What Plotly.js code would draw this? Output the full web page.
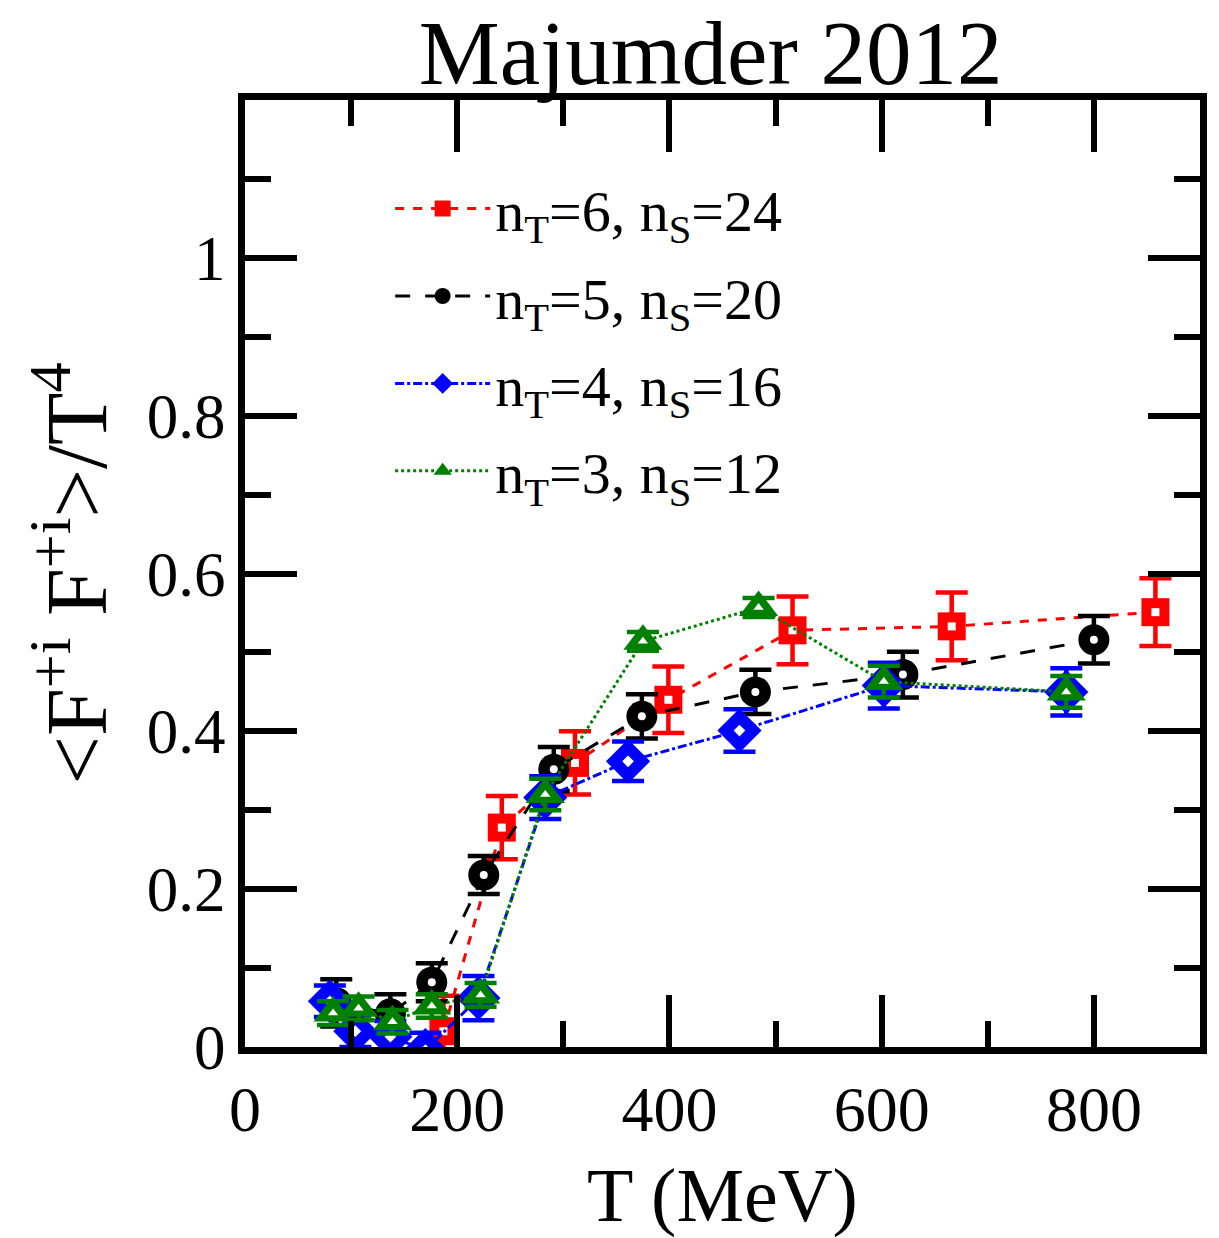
<!DOCTYPE html>
<html>
<head>
<meta charset="utf-8">
<script src="https://cdn.plot.ly/plotly-3.0.1.min.js"></script>
<style>html,body{margin:0;padding:0;background:#fff;}#chart{width:1219px;height:1238px;}</style>
</head>
<body>
<div id="chart"></div>
<script>
// n_T=6, n_S=24
const T6 = [187, 242, 311, 399, 516, 666, 858];
const F6 = [0.02, 0.278, 0.36, 0.44, 0.528, 0.533, 0.551];
const E6 = [0.045, 0.04, 0.04, 0.042, 0.043, 0.043, 0.043];
// n_T=5, n_S=20
const T5 = [86, 137, 176, 225, 291, 374, 481, 620, 800];
const F5 = [0.056, 0.042, 0.082, 0.218, 0.352, 0.419, 0.45, 0.472, 0.516];
const E5 = [0.03, 0.025, 0.024, 0.024, 0.028, 0.028, 0.028, 0.029, 0.03];
// n_T=4, n_S=16
const T4 = [80, 104, 137, 170, 220, 283, 361, 466, 602, 774];
const F4 = [0.058, 0.02, 0.013, -0.004, 0.062, 0.316, 0.362, 0.401, 0.458, 0.45];
const E4 = [0.02, 0.02, 0.02, 0.022, 0.028, 0.027, 0.025, 0.027, 0.029, 0.03];
// n_T=3, n_S=12
const T3 = [83, 107, 139, 176, 222, 283, 375, 484, 602, 774];
const F3 = [0.043, 0.049, 0.032, 0.052, 0.066, 0.32, 0.514, 0.557, 0.463, 0.45];
const E3 = [0.015, 0.015, 0.015, 0.015, 0.015, 0.02, 0.012, 0.012, 0.02, 0.02];

const names = ['n<sub>T</sub>=6, n<sub>S</sub>=24', 'n<sub>T</sub>=5, n<sub>S</sub>=20',
               'n<sub>T</sub>=4, n<sub>S</sub>=16', 'n<sub>T</sub>=3, n<sub>S</sub>=12'];
const xTicks = [0, 200, 400, 600, 800];
const yTicks = [0, 0.2, 0.4, 0.6, 0.8, 1];

function series(x, y, e, name, color, symbol, dash, size, group) {
  return [{
    x: x, y: y, name: name, type: 'scatter', mode: 'lines+markers', legendgroup: group,
    line: {color: color, width: 3, dash: dash},
    marker: {symbol: symbol, size: size, color: color, line: {width: 0}},
    error_y: {type: 'data', array: e, visible: true, color: color, thickness: 4.5, width: 16}
  }, {
    x: x, y: y, name: name, type: 'scatter', mode: 'markers', legendgroup: group, showlegend: false,
    marker: {symbol: symbol, size: Math.round(size * 0.27), color: '#ffffff', line: {width: 0}}
  }];
}
const data = [].concat(
  series(T6, F6, E6, names[0], '#ff0000', 'square', 'dash', 28, 'g6'),
  series(T5, F5, E5, names[1], '#000000', 'circle', 'longdash', 31, 'g5'),
  series(T4, F4, E4, names[2], '#0000ff', 'diamond', 'dashdot', 34, 'g4'),
  series(T3, F3, E3, names[3], '#008000', 'triangle-up', 'dot', 34, 'g3')
);
const font = 'Liberation Serif, Times New Roman, serif';
const layout = {
  width: 1219, height: 1238,
  margin: {l: 245, r: 19, t: 100, b: 191},
  paper_bgcolor: '#fff', plot_bgcolor: '#fff',
  font: {family: font, color: '#000'},
  showlegend: true,
  title: {text: 'Majumder 2012', font: {size: 91, family: font}, x: 0.583, xanchor: 'center', y: 0.958, yanchor: 'middle'},
  legend: {x: 0.152, y: 0.932, xanchor: 'left', yanchor: 'top', font: {size: 58, family: font},
           bgcolor: 'rgba(0,0,0,0)', itemwidth: 95, tracegroupgap: 9, traceorder: 'grouped'},
  xaxis: {
    range: [0, 900], showgrid: false, zeroline: false,
    showline: true, linecolor: '#000', linewidth: 7, mirror: 'allticks',
    ticks: 'inside', ticklen: 52, tickwidth: 6, tickcolor: '#000',
    tickvals: xTicks, ticktext: xTicks.map(String),
    tickfont: {size: 64, family: font},
    minor: {ticks: 'inside', ticklen: 26, tickwidth: 6, tickcolor: '#000', dtick: 100, tick0: 0, showgrid: false},
    title: {text: 'T (MeV)', font: {size: 76, family: font}, standoff: 28}
  },
  yaxis: {
    range: [0, 1.2], showgrid: false, zeroline: false,
    showline: true, linecolor: '#000', linewidth: 7, mirror: 'allticks',
    ticks: 'inside', ticklen: 52, tickwidth: 6, tickcolor: '#000',
    tickvals: yTicks, ticktext: yTicks.map(String),
    tickfont: {size: 63, family: font},
    minor: {ticks: 'inside', ticklen: 26, tickwidth: 6, tickcolor: '#000', dtick: 0.1, tick0: 0, showgrid: false},
    title: {text: '&lt;F<sup>+i</sup> F<sup>+i</sup>&gt;/T<sup>4</sup>', font: {size: 86, family: font}, standoff: 14}
  }
};
Plotly.newPlot('chart', data, layout, {displayModeBar: false, staticPlot: true});
</script>
</body>
</html>
